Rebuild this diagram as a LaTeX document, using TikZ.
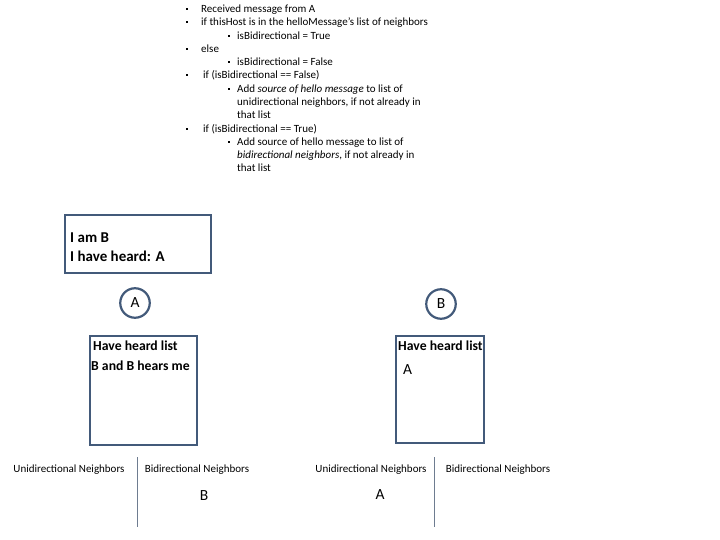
\documentclass[tikz,border=0pt]{standalone}
\usepackage{fontspec}
\setmainfont{Carlito}
\begin{document}
\begin{tikzpicture}[x=1pt,y=-1pt,
  boxline/.style={draw=boxcol,line width=2.6pt},
  circ/.style={circle,draw=boxcol,line width=2.2pt,minimum size=29.5pt,inner sep=0pt,font=\fontsize{15.5}{17}\selectfont},
  bl/.style={anchor=base west,inner sep=0pt,font=\fontsize{11}{12}\selectfont},
  bul/.style={fill=black,inner sep=0pt,minimum size=2.6pt},
  lab/.style={anchor=base,inner sep=0pt,font=\fontsize{11}{12}\selectfont},
  sep/.style={draw=sepcol,line width=0.9pt},
  big/.style={anchor=base west,inner sep=0pt,font=\fontsize{15.5}{17}\selectfont},
  bigb/.style={anchor=base west,inner sep=0pt,font=\bfseries\fontsize{15}{17}\selectfont},
  mid/.style={anchor=base west,inner sep=0pt,font=\bfseries\fontsize{13.7}{15}\selectfont}]
\definecolor{boxcol}{HTML}{435A7A}
\definecolor{sepcol}{HTML}{6E7C90}
\useasboundingbox (0,0) rectangle (720,540);
% bullet list
\foreach \y in {9,22,49,75,129} {\node[bul] at (187,\y) {};}
\foreach \y in {36,62,89,142} {\node[bul] at (229,\y) {};}
\node[bl] (l1) at (201,13) {Received message from A};
\node[bl] (l2) at (201,26) {if thisHost is in the helloMessage's list of neighbors};
\node[bl] (l3) at (237,40) {isBidirectional = True};
\node[bl] (l4) at (201,53) {else};
\node[bl] (l5) at (237,66) {isBidirectional = False};
\node[bl] (l6) at (203,79) {if (isBidirectional == False)};
\node[bl] (l7) at (237,93) {Add \textit{source of hello message} to list of};
\node[bl] (l8) at (237,106) {unidirectional neighbors, if not already in};
\node[bl] (l9) at (237,119) {that list};
\node[bl] (l10) at (203,133) {if (isBidirectional == True)};
\node[bl] (l11) at (237,146) {Add source of hello message to list of};
\node[bl] (l12) at (237,159) {\textit{bidirectional neighbors}, if not already in};
\node[bl] (l13) at (237,172) {that list};
% I am B box
\draw[boxline] (65,215) rectangle (211,273);
\node[bigb] (iam) at (70,243) {I am B};
\node[bigb] (heard) at (70,261) {I have heard: A};
% circles
\node[circ] (A) at (135,303) {A};
\node[circ] (B) at (441,304) {B};
% list boxes
\draw[boxline] (90,336) rectangle (197,445);
\node[mid] (ha) at (93,350) {Have heard list};
\node[mid] (hb) at (91,370) {B and B hears me};
\draw[boxline] (396,336) rectangle (484,443);
\node[mid] (hc) at (398,350) {Have heard list};
\node[big] (ha2) at (403,374) {A};
% neighbour labels
\node[lab] (u1) at (69,472) {Unidirectional Neighbors};
\node[lab] (b1) at (197,472) {Bidirectional Neighbors};
\draw[sep] (137,457) -- (137,527);
\node[big,anchor=base] (bb) at (204,500) {B};
\node[lab] (u2) at (371,472) {Unidirectional Neighbors};
\node[lab] (b2) at (498,472) {Bidirectional Neighbors};
\draw[sep] (434,457) -- (434,527);
\node[big,anchor=base] (aa) at (380,499) {A};
\end{tikzpicture}
\end{document}
